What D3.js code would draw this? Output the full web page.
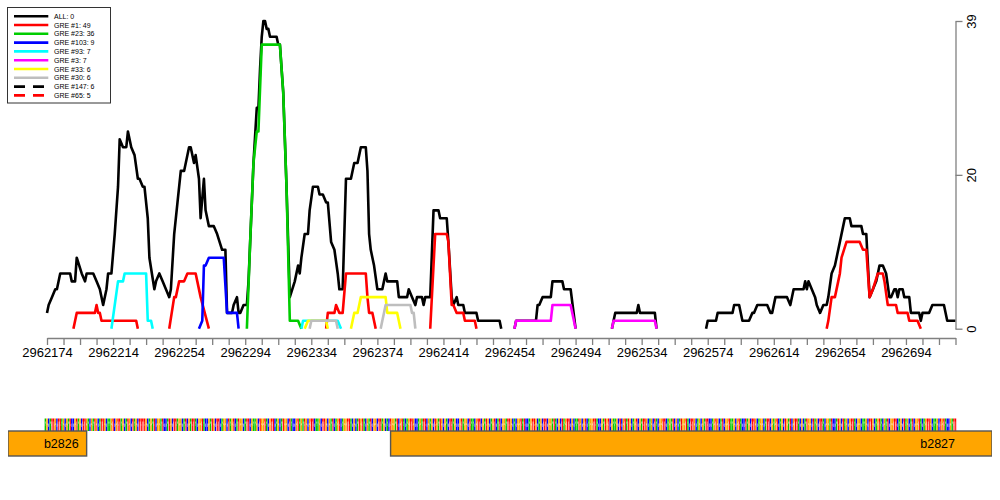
<!DOCTYPE html>
<html>
<head>
<meta charset="utf-8">
<script src="https://cdn.jsdelivr.net/npm/d3@7"></script>
<style>
  html, body { margin: 0; padding: 0; background: #fff; }
  svg { display: block; font-family: "Liberation Sans", Arial, Helvetica, sans-serif; }
</style>
</head>
<body>
<svg id="chart" width="1000" height="500"></svg>
<script>
// ---------------- data ----------------
const seqStart = 2962174;
const seqEnd = 2962724;
const xTickStep = 10;
const xLabelStep = 40;
const yMax = 39;
const yTickValues = [0, 19.5, 39];
const yTickLabels = ["0", "20", "39"];

// [offset from seqStart, value]; null value = gap
const allSeries = [[0,2],[1,3],[3,4],[5,5],[6,5],[8,7],[14,7],[15,6],[17,6],[18,9],[21,7],[23,6],[24,7],[28,7],[30,6],[32,5],[34,3],[36,5],[37,7],[39,7],[41,12],[43,18],[44,24],[46,23],[48,23],[49,25],[51,23],[53,22],[55,19],[56,19],[58,18],[59,18],[61,14],[62,9],[65,5],[66,6],[68,7],[70,6],[72,5],[74,4],[75,5],[77,12],[79,16],[81,20],[83,20],[86,23],[87,23],[89,21],[90,22],[92,19],[93,14],[95,19],[96,15],[98,13],[101,13],[103,12],[106,10],[108,10],[109,2],[112,2],[113,3],[115,4],[116,2],[117,2],[119,3],[121,3],[122,6],[125,21],[127,28],[128,28],[129,33],[130,37],[131,39],[132,39],[133,38],[134,38],[135,37],[139,37],[140,36],[141,36],[143,30],[145,18],[147,4],[150,6],[152,8],[153,7],[154,9],[156,12],[158,12],[159,15],[161,18],[164,18],[165,17],[167,17],[169,16],[170,16],[172,11],[174,10],[176,7],[177,5],[179,5],[181,19],[184,19],[186,21],[188,21],[189,22],[190,23],[193,23],[194,20],[195,12],[196,10],[197,9],[198,8],[200,5],[203,5],[204,6],[205,7],[206,6],[212,6],[213,4],[218,4],[219,5],[221,4],[223,3],[224,4],[227,4],[228,3],[229,4],[232,4],[234,15],[237,15],[238,14],[242,14],[243,11],[245,4],[246,3],[248,4],[249,3],[252,3],[253,2],[260,2],[261,1],[274,1],[275,0],[276,null],
[283,0],[284,1],[296,1],[297,3],[298,3],[300,4],[305,4],[306,6],[312,6],[313,5],[317,5],[320,0],[321,null],
[342,0],[343,1],[344,2],[357,2],[358,3],[359,2],[368,2],[369,0],[370,null],
[399,0],[400,1],[405,1],[406,2],[415,2],[416,3],[419,3],[421,1],[425,1],[427,2],[428,2],[430,3],[436,3],[438,2],[439,2],[441,4],[448,4],[450,3],[452,5],[458,5],[459,6],[460,5],[461,6],[463,5],[465,4],[466,3],[468,2],[470,3],[472,3],[473,4],[475,7],[477,8],[478,9],[480,11],[482,13],[483,14],[486,14],[487,13],[493,13],[494,12],[496,12],[498,4],[500,5],[502,6],[504,8],[506,8],[508,7],[510,4],[511,4],[513,5],[514,5],[515,4],[516,5],[518,5],[519,4],[522,4],[523,2],[528,2],[529,1],[530,2],[534,2],[536,3],[543,3],[545,1],[550,1]];

const gre1 = [[16,0],[18,2],[29,2],[30,3],[31,2],[32,2],[33,1],[54,1],[55,0],[56,null],
[74,0],[77,4],[78,4],[80,6],[83,6],[85,7],[90,7],[91,6],[93,4],[98,0],[99,null],
[169,0],[170,2],[174,2],[175,3],[177,2],[179,2],[181,7],[193,7],[194,4],[195,2],[197,2],[199,0],[200,null],
[232,0],[235,12],[242,12],[243,11],[245,3],[246,3],[248,2],[252,2],[253,1],[259,1],[260,0],[261,null],
[472,0],[473,1],[475,4],[477,4],[479,6],[480,7],[481,9],[484,11],[492,11],[494,10],[496,10],[498,4],[500,5],[503,7],[506,7],[507,6],[509,3],[514,3],[515,2],[521,2],[522,1],[527,1],[529,0]];
const gre23 = [[121,0],[123,11],[125,21],[127,25],[128,25],[130,36],[141,36],[143,30],[145,18],[147,1],[152,1],[154,0]];
const gre103 = [[92,0],[94,1],[95,8],[96,8],[98,9],[107,9],[109,2],[115,2],[116,0]];
const gre93 = [[39,0],[43,6],[46,6],[47,7],[60,7],[61,1],[63,1],[64,0],[65,null],
[154,0],[155,1],[176,1],[178,0]];
const gre3 = [[283,0],[284,1],[305,1],[306,3],[317,3],[320,0],[321,null],
[342,0],[343,1],[368,1],[369,0]];
const gre33 = [[156,0],[158,1],[169,1],[170,0],[171,null],
[184,0],[186,2],[188,2],[190,4],[205,4],[206,2],[212,2],[214,0]];
const gre30 = [[159,0],[160,1],[175,1],[176,0],[177,null],
[202,0],[203,1],[204,2],[205,3],[220,3],[221,2],[222,2],[223,0]];
const gre147 = [];
const gre65 = [];

const seriesNames = ["ALL: 0","GRE #1: 49","GRE #23: 36","GRE #103: 9","GRE #93: 7","GRE #3: 7","GRE #33: 6","GRE #30: 6","GRE #147: 6","GRE #65: 5"];
const seriesData = [allSeries, gre1, gre23, gre103, gre93, gre3, gre33, gre30, gre147, gre65];
const seriesColors = ["#000000","#FF0000","#00CD00","#0000FF","#00FFFF","#FF00FF","#FFFF00","#BEBEBE","#000000","#FF0000"];
const seriesDashed = [false,false,false,false,false,false,false,false,true,true];

// sequence (one base per position, starting at seqStart-1)
const sequence =
  "AGCATTGCTTAGCGATCCGTAGCTTGACGATGCATTGCAAGTCGTTAGCATGCTAGCTT" +
  "TTGCAGATCGGATCCATGCTTAGGCATCGATTACGGTACCGATGCTTCAGGCTAGTCATG" +
  "GCATTCGAAGCTGGTACGTTCAGCATGGCTACCGTAGATGCGTTCAAGCTTGCGATCAGT" +
  "CAGGTTACGCATGTACGATCGGCTTAGCACTGGATCGTACAGTTGCCAGATTCGAGCTGA" +
  "TGCGACTTAGCCGTAGGCTAACGTTCGATGCAGTCATCGGATTGCACGGTATCCAGTTGC" +
  "AGCTTCGGATACGCTAGTTCGCAATGCGTCAGGTTACCGATGTCGAAGCTCGTATGCAGT" +
  "CGATTGCAGCTACGGTTCAGATCGCATGGTACTTGCAGCGATTCCAGTGCATCGGTAAGC" +
  "GTACCTAGCTTGCAGGCATTCGAGTCAGCTGATCGTTACGCATGGCTAGCTTACGGATCC" +
  "ATGCTAGCGTTACGGCAAGCTTGCAGTACGATCGGTTCAGCTAGCATCGGTACAGTTGCAAGCTGTACCGATTG";
const baseColors = { A: "#00C800", C: "#0000FF", G: "#FFA500", T: "#FF0000" };

const geneNames = ["b2826", "b2827"];
const geneStarts = [2962100, 2962382];
const geneEnds = [2962198, 2963200];

// ---------------- drawing ----------------
const svg = d3.select("#chart");
const x = d3.scaleLinear().domain([seqStart, seqEnd]).range([47, 955.5]);
const y = d3.scaleLinear().domain([0, yMax]).range([328.7, 21]);
const axisColor = "#808080";

// lines
const line = d3.line()
  .defined(d => d[1] !== null)
  .x(d => x(seqStart + d[0]))
  .y(d => y(d[1]));

const linesG = svg.append("g");
seriesData.forEach((data, i) => {
  if (!data.length) return;
  linesG.append("path")
    .datum(data)
    .attr("d", line)
    .attr("fill", "none")
    .attr("stroke", seriesColors[i])
    .attr("stroke-width", 2.6)
    .attr("stroke-linejoin", "round")
    .attr("stroke-dasharray", seriesDashed[i] ? "11,8" : null);
});

// x axis
const xTicks = d3.range(seqStart, seqEnd + 1, xTickStep);
const xAxis = d3.axisBottom(x)
  .tickValues(xTicks)
  .tickSize(7)
  .tickSizeOuter(0)
  .tickFormat(d => ((d - seqStart) % xLabelStep === 0 ? String(d) : ""));
const xg = svg.append("g").attr("transform", "translate(0,338)").call(xAxis);
xg.select(".domain").attr("stroke", axisColor).attr("stroke-width", 1.3);
xg.selectAll(".tick line").attr("stroke", axisColor).attr("stroke-width", 1.3);
xg.selectAll(".tick text").attr("fill", "#000").attr("font-size", 13).attr("y", 10)
  .attr("font-family", "Liberation Sans, Arial, sans-serif");

// y axis (right)
const yAxis = d3.axisRight(y)
  .tickValues(yTickValues)
  .tickSize(7)
  .tickSizeOuter(0)
  .tickFormat((d, i) => yTickLabels[i]);
const yg = svg.append("g").attr("transform", "translate(955.5,0)").call(yAxis);
yg.select(".domain").attr("stroke", axisColor).attr("stroke-width", 1.3);
yg.selectAll(".tick line").attr("stroke", axisColor).attr("stroke-width", 1.3);
yg.selectAll(".tick text")
  .attr("fill", "#000").attr("font-size", 13)
  .attr("font-family", "Liberation Sans, Arial, sans-serif")
  .attr("x", null).attr("dy", null)
  .attr("text-anchor", "middle")
  .attr("transform", "translate(20.5,0) rotate(-90)");

// legend
const lg = svg.append("g");
lg.append("rect").attr("x", 7.5).attr("y", 7.5).attr("width", 103).attr("height", 95.5)
  .attr("fill", "#fff").attr("stroke", "#333").attr("stroke-width", 1);
seriesNames.forEach((name, i) => {
  const ry = 16.2 + i * 8.8;
  lg.append("line")
    .attr("x1", 14).attr("x2", seriesDashed[i] ? 48 : 48.3)
    .attr("y1", ry).attr("y2", ry)
    .attr("stroke", seriesColors[i]).attr("stroke-width", 2.6)
    .attr("stroke-dasharray", seriesDashed[i] ? "11,8" : null);
  lg.append("text").attr("x", 54).attr("y", ry + 2.5)
    .attr("font-size", 7).attr("fill", "#000").text(name);
});

// sequence strip: each base drawn as a narrow coloured glyph-like bar
const bases = sequence.split("").slice(0, seqEnd - seqStart + 2);
const bw = x(seqStart + 1) - x(seqStart);
const stripTop = 418.5, stripBottom = 431;
const sg = svg.append("g");
sg.selectAll("rect.base").data(bases).join("rect")
  .attr("class", "base")
  .attr("x", (d, i) => x(seqStart - 1 + i) - bw / 2 + 0.1)
  .attr("y", stripTop)
  .attr("width", bw - 0.2)
  .attr("height", stripBottom - stripTop)
  .attr("fill", d => baseColors[d]);
// white counter-shapes of the letters
const holeY = { A: [421.5, 2.2], C: [423.5, 3.5], G: [423.3, 1.6], T: [421.5, 9.5] };
sg.selectAll("rect.hole").data(bases).join("rect")
  .attr("class", "hole")
  .attr("x", (d, i) => x(seqStart - 1 + i) - (d === "T" ? bw / 2 : 0.15))
  .attr("y", d => holeY[d][0])
  .attr("width", d => (d === "T" ? 0.55 : 0.5))
  .attr("height", d => holeY[d][1])
  .attr("fill", "#fff")
  .attr("opacity", 0.85);
sg.append("line")
  .attr("x1", x(seqStart - 1) - bw / 2).attr("x2", x(seqEnd) + bw / 2)
  .attr("y1", 425).attr("y2", 425)
  .attr("stroke", "#fff").attr("stroke-width", 0.6)
  .attr("stroke-dasharray", "1,2.2").attr("opacity", 0.8);

// genes
svg.append("clipPath").attr("id", "geneClip")
  .append("rect").attr("x", 8).attr("y", 420).attr("width", 984).attr("height", 50);
const gg = svg.append("g").attr("clip-path", "url(#geneClip)");
geneNames.forEach((name, i) => {
  const x0 = Math.max(x(geneStarts[i]), 8);
  const x1 = Math.min(x(geneEnds[i]), 992);
  gg.append("rect").attr("x", x0).attr("y", 431).attr("width", x1 - x0).attr("height", 25)
    .attr("fill", "#FFA500").attr("stroke", "#555").attr("stroke-width", 1.4);
  gg.append("text")
    .attr("x", Math.min(x(geneEnds[i]), 963) - 8)
    .attr("y", 447.5)
    .attr("text-anchor", "end")
    .attr("font-size", 12.5)
    .attr("fill", "#000")
    .text(name);
});
</script>
</body>
</html>
